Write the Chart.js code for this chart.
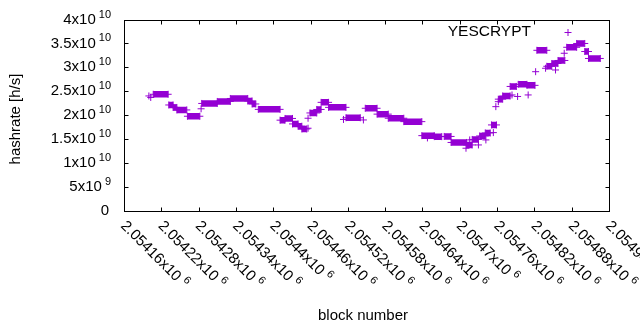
<!DOCTYPE html>
<html>
<head>
<meta charset="utf-8">
<script src="https://cdn.jsdelivr.net/npm/chart.js@4.4.1/dist/chart.umd.min.js"></script>
<style>
  html, body { margin: 0; padding: 0; background: #fff; }
  #wrap { width: 640px; height: 330px; }
</style>
</head>
<body>
<div id="wrap"><canvas id="hashChart" width="640" height="330"></canvas></div>
<script>
// runs of blocks where the estimated hashrate stays (almost) flat
const segStart = [2054207, 2054232, 2054239, 2054245, 2054262, 2054285, 2054310, 2054331, 2054359, 2054366,
                  2054376, 2054411, 2054419, 2054431, 2054440, 2054446, 2054459, 2054470, 2054477, 2054489,
                  2054517, 2054548, 2054567, 2054585, 2054610, 2054639, 2054659, 2054675, 2054686, 2054711,
                  2054720, 2054732, 2054741, 2054751, 2054762, 2054769, 2054781, 2054794, 2054808, 2054824,
                  2054840, 2054848, 2054858, 2054872, 2054888, 2054901, 2054907];
const segEnd   = [2054231, 2054239, 2054245, 2054261, 2054282, 2054310, 2054331, 2054359, 2054366, 2054372,
                  2054411, 2054419, 2054431, 2054440, 2054446, 2054454, 2054470, 2054477, 2054489, 2054517,
                  2054540, 2054567, 2054585, 2054610, 2054639, 2054659, 2054671, 2054686, 2054711, 2054720,
                  2054730, 2054741, 2054749, 2054759, 2054769, 2054781, 2054791, 2054808, 2054821, 2054840,
                  2054848, 2054858, 2054869, 2054888, 2054901, 2054907, 2054926];
const segHash  = [24.34e9, 22.10e9, 21.58e9, 21.06e9, 19.74e9, 22.42e9, 22.84e9, 23.46e9, 22.94e9, 22.31e9,
                  21.18e9, 18.92e9, 19.28e9, 18.13e9, 17.65e9, 17.08e9, 20.43e9, 21.16e9, 22.65e9, 21.60e9,
                  19.42e9, 21.41e9, 20.18e9, 19.32e9, 18.61e9, 15.68e9, 15.47e9, 15.51e9, 14.25e9, 13.73e9,
                  14.88e9, 15.61e9, 16.24e9, 17.92e9, 23.32e9, 23.99e9, 25.98e9, 26.42e9, 26.21e9, 33.55e9,
                  30.20e9, 30.79e9, 31.42e9, 34.18e9, 34.98e9, 33.30e9, 31.84e9];

// single blocks off the runs
const ptBlock = [2054200, 2054203, 2054284, 2054456, 2054456, 2054513, 2054545, 2054648, 2054710, 2054716,
                 2054730, 2054742, 2054754, 2054758, 2054762, 2054784, 2054793, 2054810, 2054822, 2054838,
                 2054854, 2054868];
const ptHash  = [23.99e9, 23.67e9, 21.30e9, 19.32e9, 17.23e9, 19.07e9, 18.96e9, 15.20e9, 13.04e9, 14.78e9,
                 13.73e9, 14.78e9, 16.31e9, 21.75e9, 22.79e9, 24.20e9, 23.88e9, 24.20e9, 29.07e9, 29.79e9,
                 29.43e9, 32.93e9];

const yTicks = [0, 5e9, 1e10, 1.5e10, 2e10, 2.5e10, 3e10, 3.5e10, 4e10];
const yTickLabels = [["0", ""], ["5x10", "9"], ["1x10", "10"], ["1.5x10", "10"], ["2x10", "10"],
                     ["2.5x10", "10"], ["3x10", "10"], ["3.5x10", "10"], ["4x10", "10"]];
const xTicks = [2054160, 2054220, 2054280, 2054340, 2054400, 2054460, 2054520,
                2054580, 2054640, 2054700, 2054760, 2054820, 2054880, 2054940];
const xTickLabels = ["2.05416", "2.05422", "2.05428", "2.05434", "2.0544", "2.05446", "2.05452",
                     "2.05458", "2.05464", "2.0547", "2.05476", "2.05482", "2.05488", "2.05494"];

const seriesName = "YESCRYPT";
const violet = "#9400d3";
const font = "Liberation Sans, Arial, sans-serif";

let segData = [];
segStart.forEach((s, i) => {
    segData.push({ x: s, y: segHash[i] });
    segData.push({ x: segEnd[i], y: segHash[i] });
    segData.push({ x: segEnd[i], y: null });
});
const ptData = ptBlock.map((b, i) => ({ x: b, y: ptHash[i] }));

function drawPlus(ctx, x, y, r) {
    ctx.beginPath();
    ctx.moveTo(x - r, y); ctx.lineTo(x + r, y);
    ctx.moveTo(x, y - r); ctx.lineTo(x, y + r);
    ctx.stroke();
}

// gnuplot-ish frame, inward ticks, superscript labels, key
const frame = {
    id: "frame",
    beforeDatasetsDraw(chart) {
        const { ctx, chartArea: a, scales } = chart;
        const L = Math.round(a.left) + 0.5, R = Math.round(a.right) + 0.5;
        const T = Math.round(a.top) + 0.5, B = Math.round(a.bottom) + 0.5;
        ctx.save();
        ctx.strokeStyle = "#000";
        ctx.lineWidth = 1;
        ctx.strokeRect(L, T, R - L, B - T);
        ctx.beginPath();
        yTicks.forEach(v => {
            const py = Math.round(scales.y.getPixelForValue(v)) + 0.5;
            ctx.moveTo(L, py); ctx.lineTo(L + 4, py);
            ctx.moveTo(R, py); ctx.lineTo(R - 4, py);
        });
        xTicks.forEach(v => {
            const px = Math.round(scales.x.getPixelForValue(v)) + 0.5;
            ctx.moveTo(px, B); ctx.lineTo(px, B - 4);
            ctx.moveTo(px, T); ctx.lineTo(px, T + 4);
        });
        ctx.stroke();
        ctx.restore();
    },
    afterDraw(chart) {
        const { ctx, chartArea: a, scales } = chart;
        ctx.save();
        ctx.fillStyle = "#000";
        ctx.textBaseline = "middle";

        // y tick labels, right aligned
        yTicks.forEach((v, i) => {
            const py = scales.y.getPixelForValue(v);
            const [main, sup] = yTickLabels[i];
            ctx.font = "11px " + font;
            const supW = sup ? ctx.measureText(sup).width : 0;
            const right = 111;
            ctx.textAlign = "right";
            if (sup) ctx.fillText(sup, right, py - 5);
            ctx.font = "15px " + font;
            ctx.fillText(main, sup ? right - supW - 3 : right - 2, py);
        });

        // x tick labels, rotated 45 degrees
        xTicks.forEach((v, i) => {
            const px = scales.x.getPixelForValue(v);
            ctx.save();
            ctx.translate(px - 1, a.bottom + 13);
            ctx.rotate(Math.PI / 4);
            ctx.textAlign = "left";
            ctx.font = "15px " + font;
            const main = xTickLabels[i] + "x10";
            ctx.fillText(main, 0, 0);
            const w = ctx.measureText(main).width;
            ctx.font = "11px " + font;
            ctx.fillText("6", w + 4, -5);
            ctx.restore();
        });

        // axis titles
        ctx.font = "15px " + font;
        ctx.textAlign = "center";
        ctx.fillText("block number", 363, 316);
        ctx.save();
        ctx.translate(16, 119);
        ctx.rotate(-Math.PI / 2);
        ctx.fillText("hashrate [h/s]", 0, 0);
        ctx.restore();

        // key
        ctx.textAlign = "right";
        ctx.font = "15.5px " + font;
        ctx.fillText(seriesName, 531, 32);
        ctx.strokeStyle = violet;
        ctx.lineWidth = 1;
        drawPlus(ctx, 568, 32.5, 3.5);
        ctx.restore();
    }
};

new Chart(document.getElementById("hashChart"), {
    type: "scatter",
    data: {
        datasets: [
            {
                label: seriesName,
                data: segData,
                showLine: true,
                spanGaps: false,
                borderColor: violet,
                backgroundColor: violet,
                borderWidth: 6.5,
                borderCapStyle: "butt",
                pointStyle: "cross",
                pointRadius: 3.5,
                pointBorderWidth: 1,
                pointBorderColor: violet
            },
            {
                label: seriesName + " single",
                data: ptData,
                pointStyle: "cross",
                pointRadius: 3.5,
                pointBorderWidth: 1,
                pointBorderColor: violet,
                backgroundColor: violet
            }
        ]
    },
    options: {
        responsive: false,
        animation: false,
        devicePixelRatio: 1,
        layout: { padding: { left: 124, right: 31, top: 19.5, bottom: 119.5 } },
        plugins: { legend: { display: false }, tooltip: { enabled: false } },
        scales: {
            x: { type: "linear", min: 2054160, max: 2054940, display: false },
            y: { min: 0, max: 4e10, display: false }
        }
    },
    plugins: [frame]
});
</script>
</body>
</html>
